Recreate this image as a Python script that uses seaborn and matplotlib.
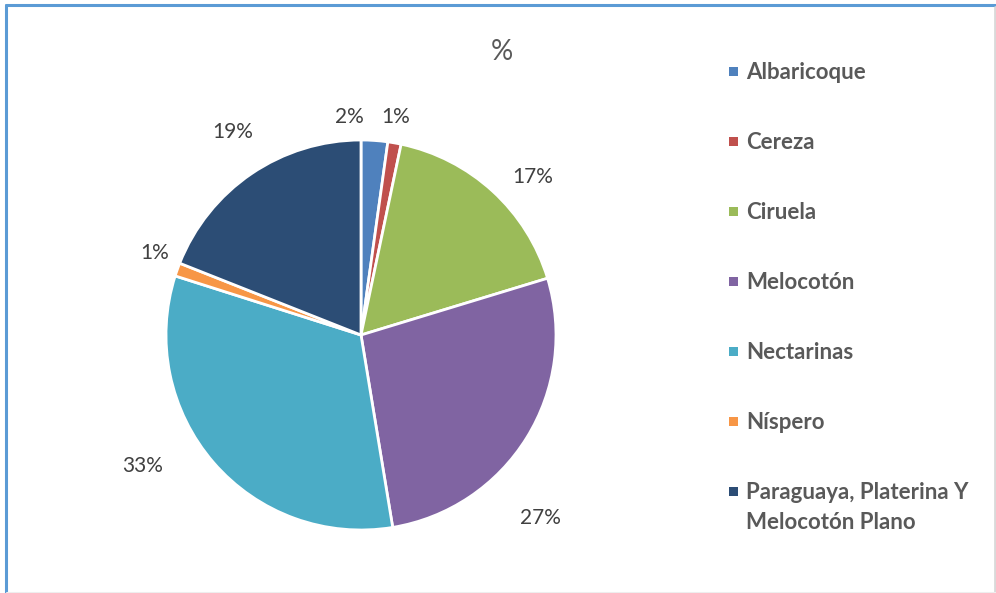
import matplotlib.pyplot as plt
import seaborn as sns
from matplotlib.lines import Line2D
from matplotlib.patches import Rectangle

# Data
categories = ['Albaricoque', 'Cereza', 'Ciruela', 'Melocotón', 'Nectarinas',
              'Níspero', 'Paraguaya, Platerina Y\nMelocotón Plano']
shares = [2.2, 1.1, 17.0, 27.1, 32.5, 1.1, 19.0]
pct_labels = ['2%', '1%', '17%', '27%', '33%', '1%', '19%']
colors = ['#4F81BD', '#C0504D', '#9BBB59', '#8064A2', '#4BACC6', '#F79646', '#2C4D75']

# label positions (in pie radius units) as Excel placed them
label_pos = [(-0.06, 1.12), (0.18, 1.12), (0.88, 0.81), (0.92, -0.94),
             (-1.12, -0.67), (-1.06, 0.42), (-0.66, 1.04)]

sns.set_theme(style='white')
plt.rcParams['font.family'] = ['Lato', 'DejaVu Sans']

W, H = 996, 593
fig = plt.figure(figsize=(W / 100, H / 100), dpi=100)
ax = fig.add_axes([(361 - 195) / W, (H - 335 - 195) / H, 390 / W, 390 / H])

wedges, _ = ax.pie(shares, colors=colors, startangle=90, counterclock=False,
                   wedgeprops=dict(edgecolor='white', linewidth=2))
ax.set_xlim(-1, 1)
ax.set_ylim(-1, 1)
ax.set_aspect('equal')
ax.axis('off')

for (x, y), txt in zip(label_pos, pct_labels):
    ax.text(x, y, txt, ha='center', va='center', fontsize=15, color='#404040',
            clip_on=False)

fig.text(502 / W, 1 - 52 / H, '%', ha='center', va='center',
         fontsize=20, color='#595959')

# legend (Excel style: small squares, handle aligned with first text line)
for i, (cat, col) in enumerate(zip(categories, colors)):
    y = 71 + 70 * i
    fig.patches.append(Rectangle(((733 - 4.5) / W, 1 - (y + 4.5) / H), 9 / W, 9 / H,
                                 transform=fig.transFigure, facecolor=col,
                                 edgecolor='none'))
    for k, line in enumerate(cat.split('\n')):
        fig.text(746 / W, 1 - (y + 8 + 30 * k) / H, line, ha='left',
                 va='baseline', fontsize=16, fontweight='bold', color='#595959')

# chart border
fig.add_artist(Line2D([6 / W, 6 / W], [0, 1 - 5 / H], transform=fig.transFigure,
                      color='#5B9BD5', linewidth=2.2))
fig.add_artist(Line2D([6 / W, 1], [1 - 5 / H, 1 - 5 / H], transform=fig.transFigure,
                      color='#5B9BD5', linewidth=2.2))
fig.add_artist(Line2D([995 / W, 995 / W], [0, 1 - 7 / H], transform=fig.transFigure,
                      color='#D9D9D9', linewidth=2))
fig.add_artist(Line2D([7 / W, 1], [0.5 / H, 0.5 / H], transform=fig.transFigure,
                      color='#EEEEEE', linewidth=1.5))

fig.savefig('out.png', dpi=100)
